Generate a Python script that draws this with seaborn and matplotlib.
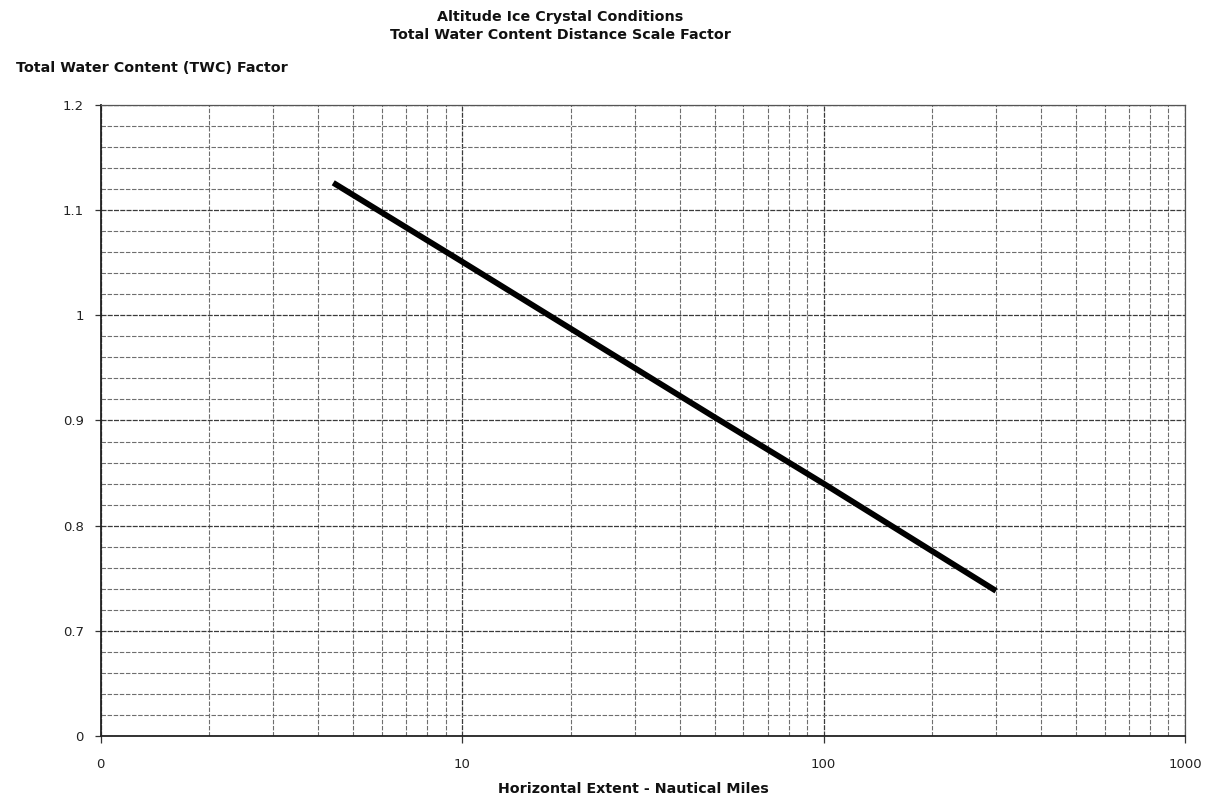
import numpy as np
import pandas as pd
import matplotlib
matplotlib.use("Agg")
import matplotlib.pyplot as plt
import seaborn as sns
from matplotlib.ticker import FixedLocator, FixedFormatter

sns.set_theme(style="white")
plt.rcParams['font.family'] = ['DejaVu Sans']

# Data
distance_nm = [4.4, 10, 17.4, 50, 100, 300]
twc_factor = [1.126, 1.051, 1.0, 0.903, 0.840, 0.738]

x_ticks = [1, 10, 100, 1000]
x_tick_labels = ["0", "10", "100", "1000"]
y_ticks = [0.6, 0.7, 0.8, 0.9, 1.0, 1.1, 1.2]
y_tick_labels = ["0", "0.7", "0.8", "0.9", "1", "1.1", "1.2"]
y_minor = [0.62, 0.64, 0.66, 0.68, 0.72, 0.74, 0.76, 0.78, 0.82, 0.84, 0.86, 0.88,
           0.92, 0.94, 0.96, 0.98, 1.02, 1.04, 1.06, 1.08, 1.12, 1.14, 1.16, 1.18]

df = pd.DataFrame({"dist": distance_nm, "twc": twc_factor})

fig = plt.figure(figsize=(12.07, 8.05), dpi=100)
ax = fig.add_axes([0.0834, 0.0857, 0.8984, 0.7839])

ax.set_xscale("log")
ax.set_xlim(1, 1000)
ax.set_ylim(0.6, 1.2)

grid_col = "#6e6e6e"
ax.xaxis.set_major_locator(FixedLocator(x_ticks))
ax.xaxis.set_major_formatter(FixedFormatter(x_tick_labels))
minor_x = [m * d for d in (1, 10, 100) for m in range(2, 10)]
ax.xaxis.set_minor_locator(FixedLocator(minor_x))
ax.xaxis.set_minor_formatter(FixedFormatter([""] * len(minor_x)))
ax.yaxis.set_major_locator(FixedLocator(y_ticks))
ax.yaxis.set_major_formatter(FixedFormatter(y_tick_labels))
ax.yaxis.set_minor_locator(FixedLocator(y_minor))

ax.grid(True, which="major", color="#3a3a3a", linewidth=0.9, linestyle=(0, (4, 1)))
ax.grid(True, which="minor", color=grid_col, linewidth=0.8, linestyle=(0, (4, 1.5)))

sns.lineplot(data=df, x="dist", y="twc", ax=ax, color="black", linewidth=4.2,
             solid_capstyle="butt", legend=False)
ax.set_xlabel("")
ax.set_ylabel("")

for s in ax.spines.values():
    s.set_color("#555555")
    s.set_linewidth(0.9)
ax.spines["left"].set_color("#222222")
ax.spines["bottom"].set_color("#222222")
ax.spines["left"].set_linewidth(1.3)
ax.spines["bottom"].set_linewidth(1.3)

ax.tick_params(axis="x", which="major", direction="out", length=5, width=0.9,
               color="#333333", pad=11, labelsize=9.5, labelcolor="#222222", bottom=True)
ax.tick_params(axis="x", which="minor", length=0, bottom=False)
ax.tick_params(axis="y", which="major", direction="out", length=4, width=0.9,
               color="#333333", pad=8, labelsize=9.5, labelcolor="#222222", left=True)
ax.tick_params(axis="y", which="minor", length=0, left=False)

fig.text(0.464, 0.979, "Altitude Ice Crystal Conditions", ha="center", va="center",
         fontsize=10.3, fontweight="bold", color="#111111")
fig.text(0.464, 0.957, "Total Water Content Distance Scale Factor", ha="center", va="center",
         fontsize=10.3, fontweight="bold", color="#111111")
fig.text(0.013, 0.915, "Total Water Content (TWC) Factor", ha="left", va="center",
         fontsize=10.3, fontweight="bold", color="#111111")
fig.text(0.525, 0.020, "Horizontal Extent - Nautical Miles", ha="center", va="center",
         fontsize=10.3, fontweight="bold", color="#111111")

fig.savefig("out.png", dpi=100, facecolor="white")
